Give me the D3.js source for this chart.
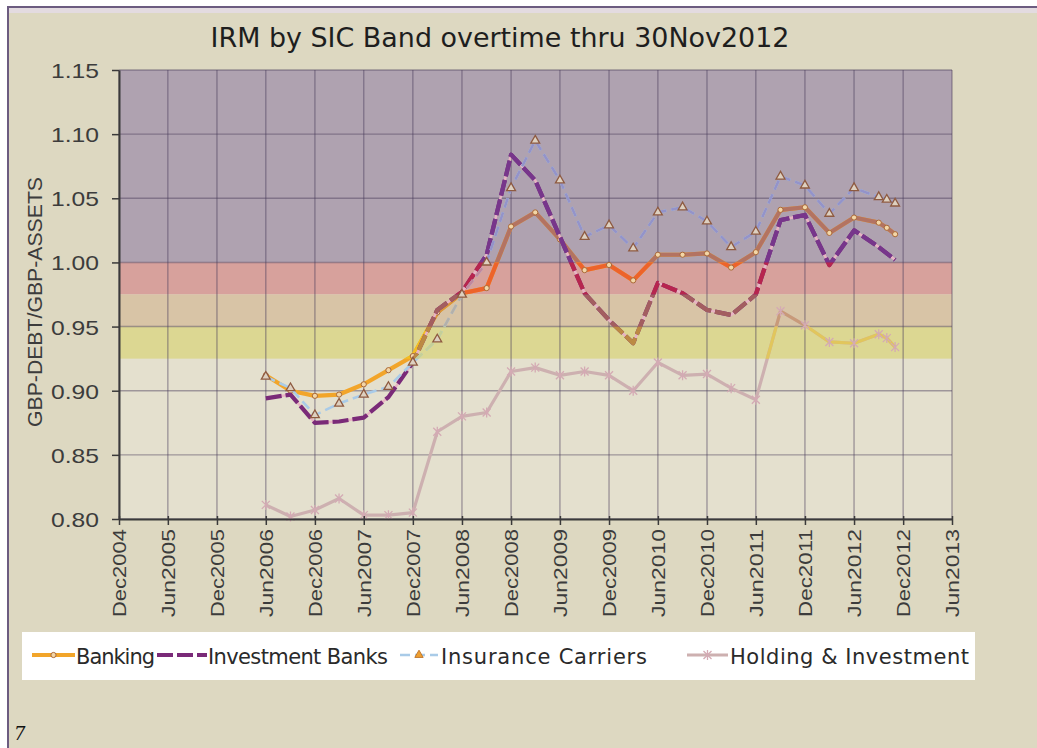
<!DOCTYPE html>
<html>
<head>
<meta charset="utf-8">
<script src="https://cdn.jsdelivr.net/npm/d3@7"></script>
<style>
  html, body { margin: 0; padding: 0; background: #ffffff; }
  svg { display: block; }
</style>
</head>
<body>
<svg id="chart" width="1037" height="748"></svg>
<script>
// ---- data -----------------------------------------------------------
const periods = [
  "Jun2006","Sep2006","Dec2006","Mar2007","Jun2007","Sep2007","Dec2007",
  "Mar2008","Jun2008","Sep2008","Dec2008","Mar2009","Jun2009","Sep2009",
  "Dec2009","Mar2010","Jun2010","Sep2010","Dec2010","Mar2011","Jun2011",
  "Sep2011","Dec2011","Mar2012","Jun2012","Sep2012","Oct2012","Nov2012"
];
const banking = [
  0.912, 0.900, 0.896, 0.897, 0.905, 0.916, 0.927,
  0.961, 0.976, 0.980, 1.028, 1.039, 1.018, 0.994,
  0.998, 0.986, 1.006, 1.006, 1.007, 0.996, 1.008,
  1.041, 1.043, 1.023, 1.035, 1.031, 1.027, 1.022
];
const investmentBanks = [
  0.894, 0.897, 0.875, 0.876, 0.879, 0.895, 0.922,
  0.963, 0.977, 1.006, 1.084, 1.064, 1.020, 0.976,
  0.955, 0.937, 0.984, 0.976, 0.963, 0.959, 0.975,
  1.033, 1.037, 0.998, 1.025, 1.012, 1.007, 1.002
];
const insuranceCarriers = [
  0.911, 0.902, 0.881, 0.890, 0.897, 0.903, 0.922,
  0.940, 0.975, 1.000, 1.058, 1.095, 1.064, 1.020,
  1.029, 1.011, 1.039, 1.043, 1.032, 1.012, 1.024,
  1.067, 1.060, 1.038, 1.058, 1.051, 1.049, 1.046
];
const holdingInvestment = [
  0.811, 0.802, 0.807, 0.816, 0.803, 0.803, 0.805,
  0.868, 0.880, 0.883, 0.915, 0.918, 0.912, 0.915,
  0.912, 0.900, 0.922, 0.912, 0.913, 0.902, 0.893,
  0.962, 0.951, 0.938, 0.937, 0.944, 0.941, 0.934
];
const seriesNames = ["Banking", "Investment Banks", "Insurance Carriers", "Holding & Investment"];
const yTickValues = [0.80, 0.85, 0.90, 0.95, 1.00, 1.05, 1.10, 1.15];
const xTickLabels = [
  "Dec2004","Jun2005","Dec2005","Jun2006","Dec2006","Jun2007","Dec2007",
  "Jun2008","Dec2008","Jun2009","Dec2009","Jun2010","Dec2010","Jun2011",
  "Dec2011","Jun2012","Dec2012","Jun2013"
];
// risk bands: [low, high]
const bandLimits = [[1.00, 1.15], [0.975, 1.00], [0.95, 0.975], [0.925, 0.95]];
const titleText = "IRM by SIC Band overtime thru 30Nov2012";
const yTitleText = "GBP-DEBT/GBP-ASSETS";

// ---- setup ----------------------------------------------------------
const parse = d3.timeParse("%b%Y");
const svg = d3.select("#chart");

const plot = { left: 119, right: 952, top: 70, bottom: 519 };

const x = d3.scaleTime()
  .domain([parse(xTickLabels[0]), parse(xTickLabels[xTickLabels.length - 1])])
  .range([plot.left, plot.right]);
const y = d3.scaleLinear()
  .domain([yTickValues[0], yTickValues[yTickValues.length - 1]])
  .range([plot.bottom, plot.top]);

const bandFill = ["#afa2b0", "#d7a19c", "#d8c4a6", "#dcd792"];
const bandTint = ["#74409a", "#e8202c", "#c4884c", "#f2d818"];

// page frame
svg.append("rect").attr("x", 8).attr("y", 7).attr("width", 1040).attr("height", 760)
  .attr("fill", "#ddd8c1").attr("stroke", "#6c5c80").attr("stroke-width", 2);
svg.append("rect").attr("x", 9).attr("y", 8).attr("width", 1030).attr("height", 5)
  .attr("fill", "#e3dbe0");

// plot background + bands
svg.append("rect")
  .attr("x", plot.left).attr("y", plot.top)
  .attr("width", plot.right - plot.left).attr("height", plot.bottom - plot.top)
  .attr("fill", "#e4e0ce");
svg.append("g").selectAll("rect").data(bandLimits).join("rect")
  .attr("x", plot.left)
  .attr("y", d => y(d[1]))
  .attr("width", plot.right - plot.left)
  .attr("height", d => y(d[0]) - y(d[1]))
  .attr("fill", (d, i) => bandFill[i]);

// gridlines
const grid = svg.append("g").attr("stroke", "#4a3c5c").attr("stroke-opacity", 0.45).attr("stroke-width", 1.4);
grid.selectAll("line.h").data(yTickValues).join("line").attr("class", "h")
  .attr("x1", plot.left).attr("x2", plot.right)
  .attr("y1", d => y(d)).attr("y2", d => y(d));
grid.selectAll("line.v").data(xTickLabels.map(parse)).join("line").attr("class", "v")
  .attr("x1", d => x(d)).attr("x2", d => x(d))
  .attr("y1", plot.top).attr("y2", plot.bottom);

// clip paths for each band
const defs = svg.append("defs");
bandLimits.forEach((b, i) => {
  defs.append("clipPath").attr("id", "band" + i)
    .append("rect")
    .attr("x", plot.left - 10).attr("y", y(b[1]))
    .attr("width", plot.right - plot.left + 20).attr("height", y(b[0]) - y(b[1]));
});

// ---- series ---------------------------------------------------------
const dates = periods.map(parse);
const seriesValues = [banking, investmentBanks, insuranceCarriers, holdingInvestment];
const styles = [
  { color: "#f2a52a", width: 4.2, dash: null, marker: "circle", mix: 0.5 },
  { color: "#7a2a78", width: 4.2, dash: "16,4", marker: null, mix: 0.55, under: "#e8b4c4" },
  { color: "#a9cbe8", width: 2.6, dash: "10,5", marker: "triangle", mix: 0.4 },
  { color: "#cdb0b0", width: 3.2, dash: null, marker: "cross", mix: 0.55 }
];
const line = d3.line().x(d => x(d.date)).y(d => y(d.v));
const drawOrder = [3, 0, 1, 2];

drawOrder.forEach(si => {
  const st = styles[si];
  const pts = dates.map((d, i) => ({ date: d, v: seriesValues[si][i] }));
  const g = svg.append("g").attr("fill", "none")
    .attr("stroke-linejoin", "round").attr("stroke-linecap", "butt");
  if (st.under) {
    g.append("path").attr("d", line(pts)).attr("stroke", st.under).attr("stroke-width", 2.5);
  }
  g.append("path").attr("d", line(pts))
    .attr("stroke", st.color).attr("stroke-width", st.width)
    .attr("stroke-dasharray", st.dash);
  bandLimits.forEach((b, bi) => {
    g.append("path").attr("d", line(pts))
      .attr("clip-path", "url(#band" + bi + ")")
      .attr("stroke", d3.interpolateRgb(st.color, bandTint[bi])(st.mix))
      .attr("stroke-width", st.width)
      .attr("stroke-dasharray", st.dash);
  });
  const mg = svg.append("g");
  if (st.marker === "circle") {
    mg.selectAll("circle").data(pts).join("circle")
      .attr("cx", d => x(d.date)).attr("cy", d => y(d.v)).attr("r", 2.6)
      .attr("fill", "#f3d6a6").attr("stroke", "#a8683a").attr("stroke-width", 1);
  } else if (st.marker === "triangle") {
    mg.selectAll("path").data(pts).join("path")
      .attr("transform", d => `translate(${x(d.date)},${y(d.v)})`)
      .attr("d", d3.symbol(d3.symbolTriangle, 34))
      .attr("fill", "#ddd0c0").attr("stroke", "#8e5a40").attr("stroke-width", 1.3);
  } else if (st.marker === "cross") {
    mg.selectAll("path").data(pts).join("path")
      .attr("transform", d => `translate(${x(d.date)},${y(d.v)})`)
      .attr("d", "M-4,-4L4,4M-4,4L4,-4M0,-5V5")
      .attr("fill", "none").attr("stroke", "#d4aab4").attr("stroke-width", 1.3);
  }
});

// ---- axes -----------------------------------------------------------
const yAxis = svg.append("g")
  .attr("transform", `translate(${plot.left},0)`)
  .call(d3.axisLeft(y).tickValues(yTickValues).tickFormat(d3.format(".2f")).tickSize(7).tickSizeOuter(0));
yAxis.select(".domain").attr("stroke", "#3a3a3a").attr("stroke-width", 2);
yAxis.selectAll(".tick line").attr("stroke", "#3a3a3a").attr("stroke-width", 1.5);
yAxis.selectAll(".tick text")
  .attr("x", -20).attr("dy", "0.36em")
  .attr("fill", "#3c3c3c")
  .style("font-family", "'Liberation Sans', Arial, sans-serif")
  .style("font-size", "21px")
  .attr("textLength", 48).attr("lengthAdjust", "spacingAndGlyphs");

const xAxis = svg.append("g")
  .attr("transform", `translate(0,${plot.bottom})`)
  .call(d3.axisBottom(x).tickValues(xTickLabels.map(parse)).tickFormat(d3.timeFormat("%b%Y")).tickSize(6).tickSizeOuter(0));
xAxis.select(".domain").attr("stroke", "#3a3a3a").attr("stroke-width", 2);
xAxis.selectAll(".tick line").attr("stroke", "#3a3a3a").attr("stroke-width", 1.5).attr("y1", -3);
xAxis.selectAll(".tick text")
  .attr("transform", "rotate(-90)")
  .attr("x", -10).attr("y", 0).attr("dy", "0.36em")
  .attr("text-anchor", "end")
  .attr("fill", "#3c3c3c")
  .style("font-family", "'Liberation Sans', Arial, sans-serif")
  .style("font-size", "18px")
  .attr("textLength", 88).attr("lengthAdjust", "spacingAndGlyphs");

// y axis title
svg.append("text")
  .attr("transform", "translate(42,302) rotate(-90)")
  .attr("text-anchor", "middle")
  .attr("fill", "#3c3c3c")
  .style("font-family", "'Liberation Sans', Arial, sans-serif")
  .style("font-size", "21px")
  .attr("textLength", 250).attr("lengthAdjust", "spacingAndGlyphs")
  .text(yTitleText);

// title
svg.append("text")
  .attr("x", 500).attr("y", 47)
  .attr("text-anchor", "middle")
  .attr("fill", "#1e1e1e")
  .style("font-family", "'DejaVu Sans', Verdana, sans-serif")
  .style("font-size", "27px")
  .attr("textLength", 579).attr("lengthAdjust", "spacingAndGlyphs")
  .text(titleText);

// ---- legend ---------------------------------------------------------
svg.append("rect").attr("x", 22).attr("y", 632).attr("width", 953).attr("height", 48)
  .attr("fill", "#ffffff");
const legendItems = [
  { s: 0, x0: 32, x1: 75, tx: 76, tl: 79 },
  { s: 1, x0: 157, x1: 207, tx: 208, tl: 180 },
  { s: 2, x0: 400, x1: 438, tx: 441, tl: 206 },
  { s: 3, x0: 687, x1: 728, tx: 730, tl: 239 }
];
const lg = svg.append("g");
legendItems.forEach(it => {
  const st = styles[it.s];
  const ly = 655;
  lg.append("line").attr("x1", it.x0).attr("x2", it.x1).attr("y1", ly).attr("y2", ly)
    .attr("stroke", st.color).attr("stroke-width", st.width)
    .attr("stroke-dasharray", st.dash);
  const cx = (it.x0 + it.x1) / 2;
  if (st.marker === "circle") {
    lg.append("circle").attr("cx", cx).attr("cy", ly).attr("r", 2.6)
      .attr("fill", "#f3d6a6").attr("stroke", "#a8683a").attr("stroke-width", 1);
  } else if (st.marker === "triangle") {
    lg.append("path").attr("transform", `translate(${cx},${ly})`)
      .attr("d", d3.symbol(d3.symbolTriangle, 30))
      .attr("fill", "#f0a030").attr("stroke", "#c07830").attr("stroke-width", 1);
  } else if (st.marker === "cross") {
    lg.append("path").attr("transform", `translate(${cx},${ly})`)
      .attr("d", "M-4,-4L4,4M-4,4L4,-4M0,-5V5")
      .attr("fill", "none").attr("stroke", "#d4aab4").attr("stroke-width", 1.3);
  }
  lg.append("text").attr("x", it.tx).attr("y", 664)
    .attr("fill", "#2a2a2a")
    .style("font-family", "'DejaVu Sans', Verdana, sans-serif")
    .style("font-size", "21px")
    .attr("textLength", it.tl).attr("lengthAdjust", "spacing")
    .text(seriesNames[it.s]);
});

// slide number
svg.append("text").attr("x", 14).attr("y", 740)
  .attr("fill", "#111")
  .style("font-family", "'DejaVu Serif', serif")
  .style("font-style", "italic")
  .style("font-size", "18px")
  .text("7");
</script>
</body>
</html>
